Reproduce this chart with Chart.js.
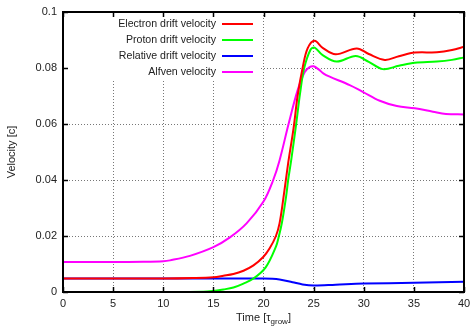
<!DOCTYPE html>
<html>
<head>
<meta charset="utf-8">
<script src="https://cdn.jsdelivr.net/npm/chart.js@4/dist/chart.umd.min.js"></script>
<style>
html,body{margin:0;padding:0;background:#fff;}
#wrap{position:relative;width:473px;height:326px;}
</style>
</head>
<body>
<div id="wrap"><canvas id="c" width="473" height="326"></canvas></div>
<script>
// ---- Data ----
const seriesLabels = ['Electron drift velocity', 'Proton drift velocity', 'Relative drift velocity', 'Alfven velocity'];
const seriesColors = ['#ff0000', '#00ff00', '#0000ff', '#ff00ff'];

const electronT = [0, 5, 10, 13, 15, 16, 17, 18, 19, 20, 20.6, 21.24, 21.6, 21.96, 22.46, 23.0, 23.4, 23.9, 24.4, 25.1, 25.9, 27.2, 29.3, 30.5, 32.1, 33.5, 35.1, 37.3, 38.8, 40];
const electronV = [0.0048, 0.0048, 0.0048, 0.0050, 0.0053, 0.0058, 0.0064, 0.0076, 0.0095, 0.0126, 0.0155, 0.0200, 0.0245, 0.0329, 0.0460, 0.0585, 0.0700, 0.0800, 0.0870, 0.0897, 0.0872, 0.0849, 0.0870, 0.0850, 0.0829, 0.0842, 0.0855, 0.0856, 0.0864, 0.0876];

const protonT = [0, 5, 10, 14, 15, 16, 17, 18, 19, 20.2, 21.24, 21.54, 21.85, 22.25, 22.46, 22.76, 23.26, 23.65, 24.06, 24.7, 25.1, 25.9, 27.3, 29.2, 30.5, 31.9, 33.5, 35.1, 37.3, 38.8, 40];
const protonV = [0.0000, 0.0000, 0.0000, 0.0001, 0.0004, 0.0009, 0.0016, 0.0030, 0.0048, 0.0087, 0.0162, 0.0200, 0.0250, 0.0340, 0.0400, 0.0470, 0.0600, 0.0710, 0.0800, 0.0866, 0.0873, 0.0846, 0.0823, 0.0843, 0.0822, 0.0796, 0.0808, 0.0819, 0.0823, 0.0829, 0.0838];

const relativeT = [0, 10, 20, 21.6, 22.9, 23.9, 25.0, 27.2, 30, 35, 40];
const relativeV = [0.0048, 0.0048, 0.0048, 0.0045, 0.0035, 0.0027, 0.0023, 0.0026, 0.0030, 0.0033, 0.0037];

const alfvenT = [0, 5, 8, 10, 10.67, 12.66, 15, 16.65, 18.31, 20, 20.97, 21.6, 22.5, 23.4, 24.1, 24.6, 25.0, 25.5, 26.0, 26.6, 28.6, 29.9, 31.6, 33.3, 35.1, 36.9, 38.2, 40];
const alfvenV = [0.0107, 0.0107, 0.0108, 0.0110, 0.0113, 0.0129, 0.0160, 0.0195, 0.0245, 0.0323, 0.0400, 0.0470, 0.0600, 0.0720, 0.0785, 0.0803, 0.0806, 0.0795, 0.0780, 0.0769, 0.0739, 0.0715, 0.0683, 0.0664, 0.0656, 0.0644, 0.0636, 0.0634];

const xTickValues = [0, 5, 10, 15, 20, 25, 30, 35, 40];
const xTickLabels = ['0', '5', '10', '15', '20', '25', '30', '35', '40'];
const yTickValues = [0, 0.02, 0.04, 0.06, 0.08, 0.1];
const yTickLabels = ['0', '0.02', '0.04', '0.06', '0.08', '0.1'];

const xTitleMain = 'Time [\u03c4';
const xTitleSub = 'grow';
const xTitleEnd = ']';
const yTitle = 'Velocity [c]';

// ---- Build datasets ----
function pts(ts, vs) { return ts.map((t, i) => ({ x: t, y: vs[i] })); }
const allT = [electronT, protonT, relativeT, alfvenT];
const allV = [electronV, protonV, relativeV, alfvenV];
const datasets = seriesLabels.map((lab, i) => ({
  label: lab,
  data: pts(allT[i], allV[i]),
  borderColor: seriesColors[i],
  backgroundColor: seriesColors[i],
  borderWidth: 2,
  pointRadius: 0,
  fill: false,
  tension: 0.35
}));

const FONT = '"Liberation Sans", Arial, Helvetica, sans-serif';
const TXT = '#222';

// Legend / frame plugin (gnuplot style)
const gnuplotStyle = {
  id: 'gnuplotStyle',
  beforeDatasetsDraw(chart) {
    const ctx = chart.ctx, a = chart.chartArea;
    ctx.save();
    ctx.fillStyle = '#fff';
    ctx.fillRect(a.left + 1, a.top + 1, 259 - a.left, 79 - a.top);
    ctx.restore();
  },
  afterDatasetsDraw(chart) {
    const ctx = chart.ctx, a = chart.chartArea;
    const xs = chart.scales.x, ys = chart.scales.y;
    ctx.save();
    // legend
    ctx.font = '10.6px ' + FONT;
    ctx.textAlign = 'right';
    ctx.textBaseline = 'middle';
    const textRight = 216, sx0 = 222, sx1 = 253;
    chart.data.datasets.forEach((ds, i) => {
      const yy = 24 + i * 16;
      ctx.fillStyle = TXT;
      ctx.fillText(ds.label, textRight, yy);
      ctx.strokeStyle = ds.borderColor;
      ctx.lineWidth = 2;
      ctx.beginPath();
      ctx.moveTo(sx0, yy);
      ctx.lineTo(sx1, yy);
      ctx.stroke();
    });
    // frame
    ctx.strokeStyle = '#000';
    ctx.lineWidth = 2;
    ctx.strokeRect(a.left, a.top, a.right - a.left, a.bottom - a.top);
    // inward ticks
    ctx.lineWidth = 1.5;
    ctx.beginPath();
    xTickValues.forEach(v => {
      const px = Math.round(xs.getPixelForValue(v)) + 0.5;
      ctx.moveTo(px, a.bottom); ctx.lineTo(px, a.bottom - 5);
      ctx.moveTo(px, a.top); ctx.lineTo(px, a.top + 5);
    });
    yTickValues.forEach(v => {
      const py = Math.round(ys.getPixelForValue(v)) + 0.5;
      ctx.moveTo(a.left, py); ctx.lineTo(a.left + 5, py);
      ctx.moveTo(a.right, py); ctx.lineTo(a.right - 5, py);
    });
    ctx.stroke();
    // x title with subscript
    ctx.fillStyle = TXT;
    ctx.textBaseline = 'alphabetic';
    ctx.textAlign = 'left';
    ctx.font = '11px ' + FONT;
    const w1 = ctx.measureText(xTitleMain).width;
    const w3 = ctx.measureText(xTitleEnd).width;
    ctx.font = '8px ' + FONT;
    const w2 = ctx.measureText(xTitleSub).width;
    const total = w1 + w2 + w3;
    let x0 = (a.left + a.right) / 2 - total / 2;
    const base = 321;
    ctx.font = '11px ' + FONT;
    ctx.fillText(xTitleMain, x0, base);
    ctx.font = '8px ' + FONT;
    ctx.fillText(xTitleSub, x0 + w1, base + 3);
    ctx.font = '11px ' + FONT;
    ctx.fillText(xTitleEnd, x0 + w1 + w2, base);
    // y title
    ctx.save();
    ctx.translate(12, (a.top + a.bottom) / 2);
    ctx.rotate(-Math.PI / 2);
    ctx.textAlign = 'center';
    ctx.textBaseline = 'middle';
    ctx.fillText(yTitle, 0, 0);
    ctx.restore();
    ctx.restore();
  }
};

new Chart(document.getElementById('c'), {
  type: 'line',
  data: { datasets },
  options: {
    responsive: false,
    animation: false,
    devicePixelRatio: 1,
    layout: { padding: { top: 12, right: 9, left: 0, bottom: 0 } },
    plugins: { legend: { display: false }, tooltip: { enabled: false } },
    scales: {
      x: {
        type: 'linear',
        min: 0, max: 40,
        afterFit(s) { s.height = 34; s.paddingLeft = 0; s.paddingRight = 0; },
        afterBuildTicks(s) { s.ticks = xTickValues.map(v => ({ value: v })); },
        ticks: {
          padding: 5,
          color: TXT,
          font: { family: FONT, size: 11 },
          maxRotation: 0,
          callback: (v, i) => xTickLabels[i]
        },
        grid: { color: '#777', lineWidth: 1, drawTicks: false },
        border: { display: false, dash: [1, 2] }
      },
      y: {
        type: 'linear',
        min: 0, max: 0.1,
        afterFit(s) { s.width = 63; s.paddingTop = 0; s.paddingBottom = 0; },
        afterBuildTicks(s) { s.ticks = yTickValues.map(v => ({ value: v })); },
        ticks: {
          padding: 6,
          color: TXT,
          font: { family: FONT, size: 11 },
          callback: (v, i) => yTickLabels[i]
        },
        grid: { color: '#777', lineWidth: 1, drawTicks: false },
        border: { display: false, dash: [1, 2] }
      }
    }
  },
  plugins: [gnuplotStyle]
});
</script>
</body>
</html>
